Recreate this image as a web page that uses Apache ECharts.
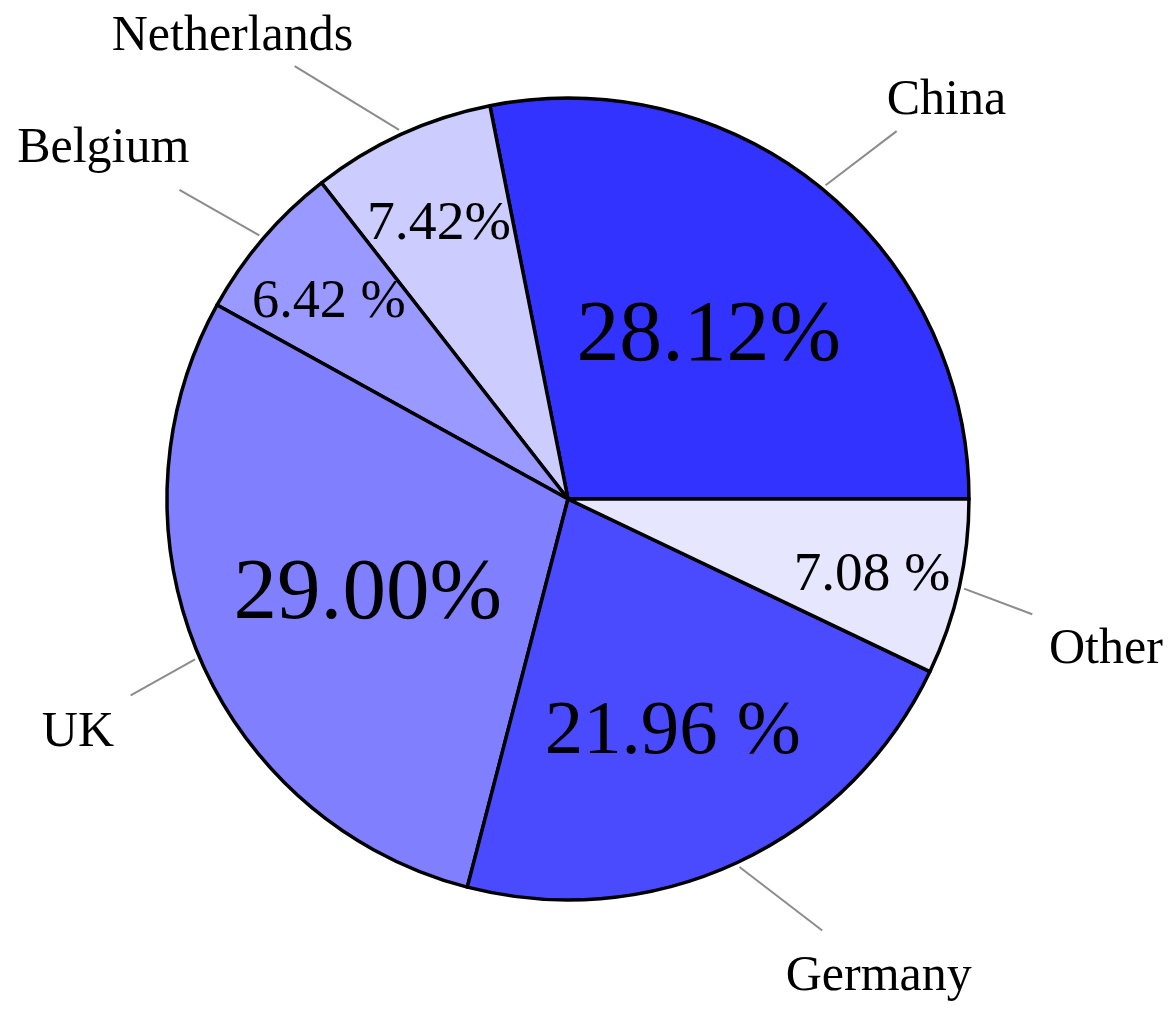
<!DOCTYPE html>
<html>
<head>
<meta charset="utf-8">
<script src="https://cdn.jsdelivr.net/npm/echarts@6/dist/echarts.min.js"></script>
<style>
  html, body { margin: 0; padding: 0; background: #fff; }
  #pie { width: 1176px; height: 1013px; }
</style>
</head>
<body>
<div id="pie"></div>
<script>
// data, counter-clockwise from 3 o'clock
var countries = ['China', 'Netherlands', 'Belgium', 'UK', 'Germany', 'Other']
var shares = [28.12, 7.42, 6.42, 29.00, 21.96, 7.08]
var shareLabels = ['28.12%', '7.42%', '6.42 %', '29.00%', '21.96 %', '7.08 %']

var palette = ['#3333ff', '#ccccff', '#9999ff', '#8080ff', '#4a4aff', '#e6e6ff']
var center = [568, 499]
var radius = 401
var nameFont = 50
var serif = 'Liberation Serif, Times New Roman, serif'

var dom = document.getElementById('pie')
var myChart = echarts.init(dom)

// bigger slices get bigger numbers, drawn nearer the centre
function pctFont(v) {
  return 45 + 1.45 * v
}
function pctRadius(v) {
  return 0.84 - 0.0105 * v
}

// pin style labels: anchor corner picked from the angle, line aims at the box centre
function pinLayout(p) {
  var pts = p.labelLinePoints
  if (!pts) return {}
  var P0 = pts[0], A = pts[1]
  var ux = A[0] - P0[0], uy = A[1] - P0[1]
  var len = Math.sqrt(ux * ux + uy * uy)
  ux /= len
  uy /= len
  var E = [P0[0] + ux * 5, P0[1] + uy * 5]
  var ang = Math.atan2(-uy, ux) * 180 / Math.PI
  ang = (ang + 360) % 360
  var em = nameFont
  var sep = em / 3
  var textH = 0.85 * em
  var W = p.labelRect.width + 2 * sep
  var H = textH + (/[gjpqy]/.test(p.text) ? 0.217 * em : 0) + 2 * sep
  var fx, fy
  if (ang < 2.5 || ang >= 357.5) { fx = 0; fy = 0.5 }
  else if (ang < 87.5) { fx = 0; fy = 1 }
  else if (ang < 92.5) { fx = 0.5; fy = 1 }
  else if (ang < 177.5) { fx = 1; fy = 1 }
  else if (ang < 182.5) { fx = 1; fy = 0.5 }
  else if (ang < 267.5) { fx = 1; fy = 0 }
  else if (ang < 272.5) { fx = 0.5; fy = 0 }
  else { fx = 0; fy = 0 }
  var bx = A[0] - fx * W
  var by = A[1] - fy * H
  var cx = bx + W / 2, cy = by + H / 2
  var vx = E[0] - cx, vy = E[1] - cy
  var s = Math.min(Math.abs(vx) > 0 ? (W / 2) / Math.abs(vx) : 1e9, Math.abs(vy) > 0 ? (H / 2) / Math.abs(vy) : 1e9)
  var baseline = by + sep + textH
  return {
    x: bx + sep,
    y: baseline - 0.262 * em,
    align: 'left',
    verticalAlign: 'middle',
    labelLinePoints: [E, [cx + vx * s, cy + vy * s]]
  }
}

function pctLayout(p) {
  var r = p.labelRect
  var px = r.x + r.width / 2, py = r.y + r.height / 2
  var v = shares[p.dataIndex]
  var k = pctRadius(v) / 0.5
  return {
    x: center[0] + (px - center[0]) * k,
    y: center[1] + (py - center[1]) * k + 0.07 * pctFont(v) + 4,
    align: 'center',
    verticalAlign: 'middle'
  }
}

var sliceData = countries.map(function (c, i) {
  return {
    name: c,
    value: shares[i],
    itemStyle: { color: palette[i] },
    label: { fontSize: pctFont(shares[i]) }
  }
})
var nameData = countries.map(function (c, i) {
  return { name: c, value: shares[i] }
})

option = {
  backgroundColor: '#fff',
  animation: false,
  series: [
    {
      type: 'pie',
      center: center,
      radius: radius,
      startAngle: 0,
      clockwise: false,
      avoidLabelOverlap: false,
      emphasis: { disabled: true },
      itemStyle: { borderColor: '#000', borderWidth: 3.5 },
      label: {
        show: true,
        position: 'inside',
        fontFamily: serif,
        color: '#000',
        formatter: function (p) {
          return shareLabels[p.dataIndex]
        }
      },
      labelLayout: pctLayout,
      data: sliceData
    },
    {
      type: 'pie',
      silent: true,
      center: center,
      radius: radius,
      startAngle: 0,
      clockwise: false,
      avoidLabelOverlap: false,
      emphasis: { disabled: true },
      itemStyle: { color: 'rgba(0,0,0,0)', borderWidth: 0 },
      label: {
        show: true,
        position: 'outside',
        fontFamily: serif,
        fontSize: nameFont,
        color: '#000',
        formatter: '{b}'
      },
      labelLine: {
        show: true,
        length: 75,
        length2: 0,
        lineStyle: { color: '#8c8c8c', width: 2 }
      },
      labelLayout: pinLayout,
      data: nameData
    }
  ]
}
if (option && typeof option === 'object') {
  myChart.setOption(option, true)
}
</script>
</body>
</html>
